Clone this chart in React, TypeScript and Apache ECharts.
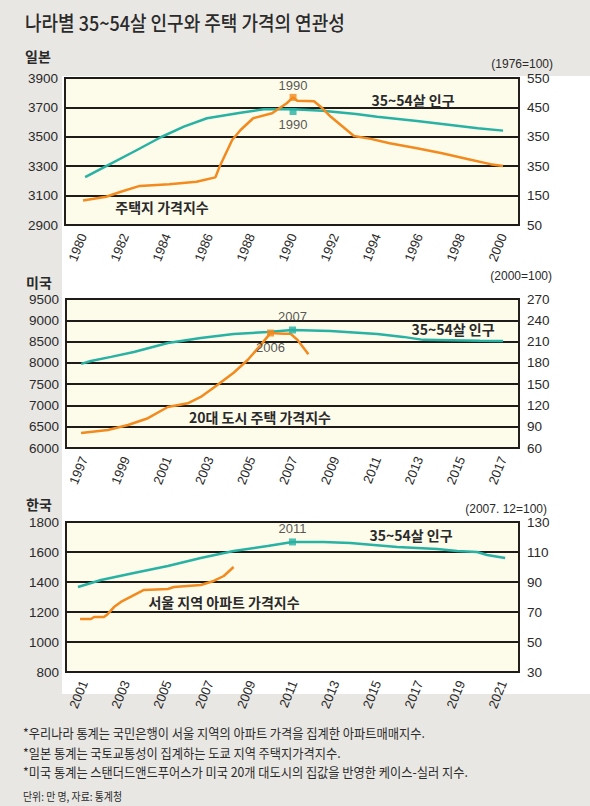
import React, { useEffect, useRef } from 'react';
import * as echarts from 'echarts';

// ---------- Japan ----------
const jpYearTicks = [1980, 1982, 1984, 1986, 1988, 1990, 1992, 1994, 1996, 1998, 2000];
const jpLeftTicks = [2900, 3100, 3300, 3500, 3700, 3900];
const jpRightTicks = [50, 150, 250, 350, 450, 550];
const jpRightLabels = ['50', '150', '350', '350', '450', '550'];
const jpPopulation: [number, number][] = [
  [1980.1, 3225], [1981.1, 3301], [1982.5, 3405], [1983.7, 3497], [1984.8, 3569],
  [1985.9, 3626], [1987.5, 3664], [1988.6, 3687], [1990.0, 3687], [1991.4, 3678],
  [1993.0, 3655], [1994.0, 3637], [1995.9, 3607], [1997.5, 3580], [1998.8, 3558], [2000.0, 3542],
];
const jpLandPrice: [number, number][] = [
  [1980.0, 133], [1981.1, 146], [1981.8, 163], [1982.7, 183], [1984.1, 189], [1985.4, 197],
  [1986.3, 212], [1986.5, 248], [1987.1, 339], [1987.5, 373], [1988.1, 413], [1989.0, 430],
  [1989.7, 464], [1990.0, 484], [1990.2, 473], [1991.0, 471], [1991.4, 447], [1991.8, 418],
  [1992.9, 353], [1993.7, 343], [1994.6, 328], [1995.9, 311], [1997.1, 294], [1998.4, 273],
  [1999.4, 257], [2000.0, 251],
];
const jpPopMark: [number, number] = [1990, 3672];
const jpPriceMark: [number, number] = [1990, 484];
const jpMarkLabel = '1990';

// ---------- United States ----------
const usYearTicks = [1997, 1999, 2001, 2003, 2005, 2007, 2009, 2011, 2013, 2015, 2017];
const usLeftTicks = [6000, 6500, 7000, 7500, 8000, 8500, 9000, 9500];
const usRightTicks = [60, 90, 120, 150, 180, 210, 240, 270];
const usPopulation: [number, number][] = [
  [1996.86, 7975], [1997.33, 8044], [1998.29, 8140], [1999.38, 8255], [2001.0, 8466],
  [2002.57, 8584], [2004.14, 8678], [2005.76, 8725], [2006.95, 8772], [2008.76, 8750],
  [2011.0, 8680], [2012.24, 8610], [2013.19, 8540], [2015.9, 8520], [2017.0, 8515],
];
const usHomePrice: [number, number][] = [
  [1996.86, 81], [1998.14, 85.4], [1999.1, 92.4], [2000.05, 102], [2001.0, 117.8],
  [2001.95, 123], [2002.57, 132], [2003.38, 149], [2004.14, 166], [2004.81, 184],
  [2005.43, 205], [2005.76, 217], [2005.9, 222], [2006.52, 221], [2006.86, 221],
  [2007.2, 212], [2007.71, 192],
];
const usPopMark: [number, number] = [2006.95, 8772];
const usPriceMark: [number, number] = [2005.9, 222];
const usPopMarkLabel = '2007';
const usPriceMarkLabel = '2006';

// ---------- Korea ----------
const krYearTicks = [2001, 2003, 2005, 2007, 2009, 2011, 2013, 2015, 2017, 2019, 2021];
const krLeftTicks = [800, 1000, 1200, 1400, 1600, 1800];
const krRightTicks = [30, 50, 70, 90, 110, 130];
const krPopulation: [number, number][] = [
  [2000.71, 1367], [2001.81, 1413], [2003.38, 1460], [2005.0, 1507], [2006.57, 1560],
  [2008.14, 1607], [2009.76, 1640], [2010.95, 1667], [2012.43, 1667], [2013.71, 1660],
  [2015.95, 1633], [2017.86, 1620], [2018.81, 1607], [2019.76, 1600], [2020.24, 1580],
  [2021.1, 1560],
];
const krAptPrice: [number, number][] = [
  [2000.81, 65.3], [2001.33, 65.3], [2001.48, 66.7], [2001.95, 66.7], [2002.14, 68.7],
  [2002.43, 73.3], [2002.76, 76.7], [2003.38, 81.3], [2003.86, 84.7], [2005.0, 85.3],
  [2005.29, 86.7], [2006.57, 88], [2007.19, 90.7], [2007.67, 94], [2008.14, 100],
];
const krPopMark: [number, number] = [2010.95, 1667];
const krPopMarkLabel = '2011';

// ---------- texts ----------
const titleText = '나라별 35~54살 인구와 주택 가격의 연관성';
const countryNames = ['일본', '미국', '한국'];
const baseNotes = ['(1976=100)', '(2000=100)', '(2007. 12=100)'];
const popSeriesName = '35~54살 인구';
const priceSeriesNames = ['주택지 가격지수', '20대 도시 주택 가격지수', '서울 지역 아파트 가격지수'];
const footnotes = [
  '*우리나라 통계는 국민은행이 서울 지역의 아파트 가격을 집계한 아파트매매지수.',
  '*일본 통계는 국토교통성이 집계하는 도쿄 지역 주택지가격지수.',
  '*미국 통계는 스탠더드앤드푸어스가 미국 20개 대도시의 집값을 반영한 케이스-실러 지수.',
];
const sourceNote = '단위: 만 명, 자료: 통계청';

const TEAL = '#27b2a3';
const ORANGE = '#f28a1e';
const INK = '#2a2a2a';
const KFONT = "'Noto Sans CJK KR', sans-serif";
const NFONT = "'Liberation Sans', Arial, sans-serif";

const grids = [
  { left: 65, top: 78, width: 454, height: 147 },
  { left: 66, top: 299, width: 453, height: 149 },
  { left: 66, top: 522, width: 453, height: 150 },
];

function xAxisCfg(idx: number, min: number, max: number, ticks: number[]) {
  return {
    type: 'value', gridIndex: idx, min, max,
    axisLine: { show: false },
    axisTick: { show: false, customValues: ticks },
    splitLine: { show: false },
    axisLabel: {
      customValues: ticks, rotate: 68, margin: 9, fontSize: 13, color: INK,
      fontFamily: NFONT, formatter: (v: number) => String(v),
    },
  };
}

function yAxisCfg(idx: number, min: number, max: number, ticks: number[], pos: 'left' | 'right', split: boolean, labels?: string[]) {
  return {
    type: 'value', gridIndex: idx, min, max, position: pos,
    axisLine: { show: false },
    axisTick: { show: false, customValues: ticks },
    splitLine: { show: split, lineStyle: { color: '#1e1b18', width: 2 } },
    axisLabel: {
      customValues: ticks, margin: pos === 'left' ? 7 : 8, fontSize: 13.5, color: INK,
      fontFamily: NFONT,
      formatter: labels ? (v: number) => labels[ticks.indexOf(v)] ?? String(v) : (v: number) => String(v),
    },
  };
}

function lineSeries(xi: number, yi: number, data: [number, number][], color: string) {
  return {
    type: 'line', xAxisIndex: xi, yAxisIndex: yi, data, showSymbol: false, symbol: 'none',
    silent: true, lineStyle: { color, width: 2.5 }, z: 3,
  };
}

function markSeries(xi: number, yi: number, pt: [number, number], color: string, text: string, position: 'top' | 'bottom', distance: number) {
  return {
    type: 'scatter', xAxisIndex: xi, yAxisIndex: yi, data: [pt], symbol: 'rect', symbolSize: 7,
    silent: true, z: 4, itemStyle: { color },
    label: {
      show: true, position, distance, formatter: text, fontSize: 13, color: INK, fontFamily: NFONT,
    },
  };
}

function txt(text: string, x: number, y: number, font: string, align = 'left', fill = INK, scaleX = 1) {
  return {
    type: 'text', x, y, scaleX, silent: true, z: 10,
    style: {
      text, x: 0, y: 0, font, fill,
      textAlign: align, align, textVerticalAlign: 'middle', verticalAlign: 'middle',
    },
  };
}

export default function App() {
  const ref = useRef<HTMLDivElement>(null);
  useEffect(() => {
    if (!ref.current) return;
    const chart = echarts.init(ref.current, undefined, { renderer: 'svg' });
    const option: any = {
      animation: false,
      grid: grids.map((g) => ({
        ...g, show: true, backgroundColor: '#fdfbea', borderColor: '#241f1b', borderWidth: 2,
      })),
      xAxis: [
        xAxisCfg(0, 1979.14, 2000.76, jpYearTicks),
        xAxisCfg(1, 1996.14, 2017.76, usYearTicks),
        xAxisCfg(2, 2000.14, 2021.76, krYearTicks),
      ],
      yAxis: [
        yAxisCfg(0, 2900, 3900, jpLeftTicks, 'left', true),
        yAxisCfg(0, 50, 550, jpRightTicks, 'right', false, jpRightLabels),
        yAxisCfg(1, 6000, 9500, usLeftTicks, 'left', true),
        yAxisCfg(1, 60, 270, usRightTicks, 'right', false),
        yAxisCfg(2, 800, 1800, krLeftTicks, 'left', true),
        yAxisCfg(2, 30, 130, krRightTicks, 'right', false),
      ],
      series: [
        lineSeries(0, 0, jpPopulation, TEAL),
        lineSeries(0, 1, jpLandPrice, ORANGE),
        markSeries(0, 0, jpPopMark, TEAL, jpMarkLabel, 'bottom', 3),
        markSeries(0, 1, jpPriceMark, ORANGE, jpMarkLabel, 'top', 2),
        lineSeries(1, 2, usPopulation, TEAL),
        lineSeries(1, 3, usHomePrice, ORANGE),
        markSeries(1, 2, usPopMark, TEAL, usPopMarkLabel, 'top', 3),
        markSeries(1, 3, usPriceMark, ORANGE, usPriceMarkLabel, 'bottom', 4),
        lineSeries(2, 4, krPopulation, TEAL),
        lineSeries(2, 5, krAptPrice, ORANGE),
        markSeries(2, 4, krPopMark, TEAL, krPopMarkLabel, 'top', 3),
      ],
      graphic: [
        txt(titleText, 25, 22, `500 20px ${KFONT}`, 'left', '#2b2b2b', 0.9),
        txt(countryNames[0], 25, 56, `bold 14px ${KFONT}`),
        txt(countryNames[1], 26, 282, `bold 14px ${KFONT}`),
        txt(countryNames[2], 26, 504, `bold 14px ${KFONT}`),
        txt(baseNotes[0], 553, 64, `12px ${NFONT}`, 'right'),
        txt(baseNotes[1], 552, 276, `12px ${NFONT}`, 'right'),
        txt(baseNotes[2], 547, 509, `12px ${NFONT}`, 'right'),
        txt(popSeriesName, 413, 100, `bold 14px ${KFONT}`, 'center'),
        txt(priceSeriesNames[0], 162, 207, `bold 14px ${KFONT}`, 'center'),
        txt(popSeriesName, 453, 329, `bold 14px ${KFONT}`, 'center'),
        txt(priceSeriesNames[1], 260, 417, `bold 14px ${KFONT}`, 'center'),
        txt(popSeriesName, 411, 535, `bold 14px ${KFONT}`, 'center'),
        txt(priceSeriesNames[2], 224, 602, `bold 14px ${KFONT}`, 'center'),
        txt(footnotes[0], 23, 732, `13px ${KFONT}`, 'left', '#2b2b2b', 0.94),
        txt(footnotes[1], 23, 752, `13px ${KFONT}`, 'left', '#2b2b2b', 0.94),
        txt(footnotes[2], 23, 771, `13px ${KFONT}`, 'left', '#2b2b2b', 0.94),
        txt(sourceNote, 23, 796, `11px ${KFONT}`, 'left', '#2b2b2b', 0.9),
      ],
    };
    chart.setOption(option);
    return () => chart.dispose();
  }, []);

  return (
    <div style={{ position: 'fixed', left: 0, top: 0, width: 590, height: 806, background: '#e9e7e3', overflow: 'hidden' }}>
      <div style={{ position: 'absolute', left: 62, top: 76, width: 528, height: 618, background: '#ffffff' }} />
      <div ref={ref} style={{ position: 'absolute', left: 0, top: 0, width: 590, height: 806 }} />
    </div>
  );
}
